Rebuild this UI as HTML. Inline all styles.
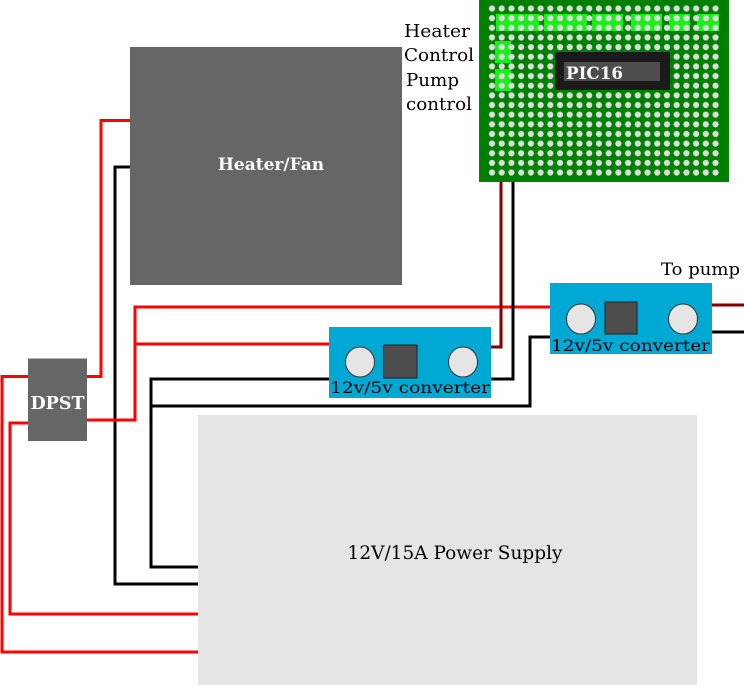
<!DOCTYPE html>
<html><head><meta charset="utf-8"><style>html,body{margin:0;padding:0;background:#fff}svg{display:block}</style></head>
<body>
<svg width="744" height="685" xmlns="http://www.w3.org/2000/svg" font-family="DejaVu Serif, Liberation Serif, serif">
<defs>
<pattern id="p" patternUnits="userSpaceOnUse" x="487.14" y="3.68" width="9.72" height="9.65">
<circle cx="4.86" cy="4.82" r="3.1" fill="#ddd"/>
</pattern>
</defs>
<rect x="130" y="47" width="272" height="238" fill="#666"/>
<text x="271" y="170" fill="#fff" font-size="17" font-weight="bold" text-anchor="middle">Heater/Fan</text>
<rect x="198" y="415" width="499" height="270" fill="#e5e5e5"/>
<text x="455" y="559" font-size="18.5" text-anchor="middle" fill="#000">12V/15A Power Supply</text>
<g fill="none" stroke-width="3">
<polyline points="87,376.5 101,376.5 101,120.5 130,120.5" stroke="#f00"/>
<polyline points="130,167 115,167 115,584 198,584" stroke="#000"/>
<polyline points="87,420 135,420 135,307 550,307" stroke="#f00"/>
<polyline points="135,344 329,344" stroke="#f00"/>
<polyline points="329,379 151,379 151,567 198,567" stroke="#000"/>
<polyline points="151,406 530,406 530,337 550,337" stroke="#000"/>
<polyline points="491,347 501,347 501,182" stroke="#800000"/>
<polyline points="491,379 513,379 513,182" stroke="#000"/>
<polyline points="712,305 744,305" stroke="#800000"/>
<polyline points="712,332 744,332" stroke="#000"/>
<polyline points="28,423 10,423 10,614 198,614" stroke="#f00"/>
<polyline points="28,376.5 2,376.5 2,652 198,652" stroke="#f00"/>
</g>
<rect x="28" y="358.5" width="59" height="82.5" fill="#666"/>
<text x="57.5" y="409" fill="#fff" font-size="17.5" font-weight="bold" text-anchor="middle" textLength="54" lengthAdjust="spacingAndGlyphs">DPST</text>
<rect x="329" y="327" width="162" height="71" fill="#00a8d4"/>
<ellipse cx="360" cy="362" rx="14.5" ry="15" fill="#e5e5e5" stroke="#333"/>
<rect x="383.5" y="345" width="33.5" height="33" fill="#4d4d4d" stroke="#222"/>
<ellipse cx="463" cy="362" rx="14.5" ry="15" fill="#e5e5e5" stroke="#333"/>
<text x="330" y="393" font-size="16" textLength="160" lengthAdjust="spacingAndGlyphs">12v/5v converter</text>
<rect x="550" y="283" width="162" height="71" fill="#00a8d4"/>
<ellipse cx="581" cy="319" rx="14.5" ry="15" fill="#e5e5e5" stroke="#333"/>
<rect x="605" y="302" width="32" height="32" fill="#4d4d4d" stroke="#222"/>
<ellipse cx="683" cy="319" rx="14.5" ry="15" fill="#e5e5e5" stroke="#333"/>
<text x="551" y="351" font-size="16" textLength="159" lengthAdjust="spacingAndGlyphs">12v/5v converter</text>
<text x="661" y="275" font-size="17" textLength="79" lengthAdjust="spacingAndGlyphs">To pump</text>
<text x="404" y="37" font-size="18" textLength="66" lengthAdjust="spacingAndGlyphs">Heater</text>
<text x="404" y="61" font-size="18" textLength="70" lengthAdjust="spacingAndGlyphs">Control</text>
<text x="406" y="86" font-size="18" textLength="53" lengthAdjust="spacingAndGlyphs">Pump</text>
<text x="406" y="110" font-size="18" textLength="66" lengthAdjust="spacingAndGlyphs">control</text>
<rect x="479" y="0" width="250" height="182" fill="#008000"/>
<g fill="#19f019">
<rect x="496" y="14" width="43" height="17"/><rect x="544" y="14" width="43" height="17"/>
<rect x="592" y="14" width="31" height="17"/><rect x="631" y="14" width="31" height="17"/>
<rect x="669" y="14" width="21" height="17"/><rect x="697" y="14" width="22" height="17"/>
<rect x="495" y="41" width="16" height="22"/><rect x="495" y="69" width="16" height="22"/>
</g>
<rect x="487.14" y="3.68" width="233.28" height="173.7" fill="url(#p)"/>
<rect x="555" y="52" width="115" height="38" fill="#1a1a1a"/>
<rect x="564" y="62" width="96" height="19" fill="#4d4d4d"/>
<text x="566" y="79" fill="#fff" font-size="17" font-weight="bold" textLength="57" lengthAdjust="spacingAndGlyphs">PIC16</text>
</svg>
</body></html>
